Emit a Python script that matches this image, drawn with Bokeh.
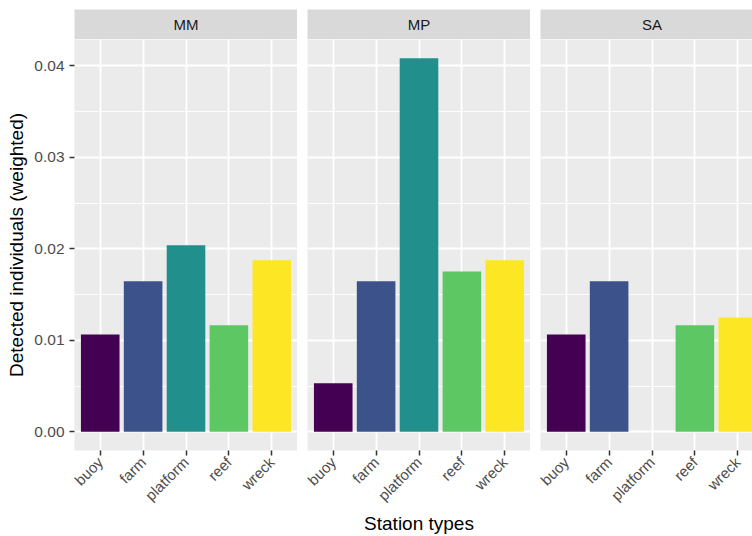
import math
import numpy as np
from bokeh.plotting import figure
from bokeh.models import Range1d, FixedTicker, NumeralTickFormatter
from bokeh.layouts import column, row
from bokeh.embed import file_html
from bokeh.resources import INLINE
from bokeh.core.properties import value

# ---- data ----
categories = ["buoy", "farm", "platform", "reef", "wreck"]
facets = ["MM", "MP", "SA"]
mm_values = [0.01065, 0.01646, 0.02038, 0.01166, 0.01875]
mp_values = [0.00531, 0.01646, 0.04084, 0.01751, 0.01875]
sa_values = [0.01065, 0.01646, float("nan"), 0.01166, 0.01250]
bar_colors = ["#440154", "#3B528B", "#21908C", "#5DC863", "#FDE725"]
y_ticks = [0.0, 0.01, 0.02, 0.03, 0.04]
y_minor = [0.005, 0.015, 0.025, 0.035]
x_title = "Station types"
y_title = "Detected individuals (weighted)"

FONT = "Liberation Sans"
n = len(categories)
xs = np.arange(1, n + 1)

all_vals = np.array(mm_values + mp_values + sa_values, dtype=float)
ymax = np.nanmax(all_vals)
pad = 0.05 * ymax
y_range = Range1d(-pad, ymax + pad)

TOTAL_W, TOTAL_H = 752, 536
FRAME_W = 223
GAP = 10
LEFT = 74
LAST_W = TOTAL_W - LEFT - 2 * (FRAME_W + GAP)  # third panel is cut by the image edge
STRIP_H = 30
TOP = 9
FRAME_H = 411
BOTTOM = TOTAL_H - (TOP + STRIP_H) - FRAME_H


def make_xrange(frame_w):
    span = (n + 0.2) * frame_w / FRAME_W
    return Range1d(0.4, 0.4 + span)


def panel(vals, frame_w, left, xr, first, xlabel):
    p = figure(width=left + frame_w, height=FRAME_H + BOTTOM, x_range=xr, y_range=y_range,
               output_backend="svg", toolbar_location=None, title=None,
               y_axis_location="left" if first else None,
               min_border_left=left, min_border_right=0, min_border_top=0,
               min_border_bottom=BOTTOM)
    p.background_fill_color = "#EBEBEB"
    p.border_fill_color = "white"
    p.outline_line_color = None

    v = np.array(vals, dtype=float)
    mask = ~np.isnan(v)
    p.vbar(x=xs[mask], top=v[mask], bottom=0, width=0.9,
           fill_color=[c for c, m in zip(bar_colors, mask) if m], line_color=None)

    xt = FixedTicker(ticks=[float(x) for x in xs], minor_ticks=[])
    p.xaxis.ticker = xt
    p.xgrid.ticker = xt
    p.xaxis.major_label_overrides = {int(x): c for x, c in zip(xs, categories)}
    p.xaxis.major_label_orientation = math.pi / 4
    p.xaxis.axis_line_color = None
    p.xaxis.major_tick_line_color = "#333333"
    p.xaxis.major_tick_line_width = 1.5
    p.xaxis.major_tick_out = 5
    p.xaxis.major_tick_in = 0
    p.xaxis.minor_tick_line_color = None
    p.xaxis.major_label_text_font = FONT
    p.xaxis.major_label_text_font_size = "15px"
    p.xaxis.major_label_text_color = "#4D4D4D"
    p.xaxis.major_label_standoff = 4
    if xlabel:
        p.xaxis.axis_label = xlabel
        p.xaxis.axis_label_text_font = FONT
        p.xaxis.axis_label_text_font_size = "19px"
        p.xaxis.axis_label_text_font_style = "normal"
        p.xaxis.axis_label_text_color = "black"
        p.xaxis.axis_label_standoff = 0

    yt = FixedTicker(ticks=y_ticks, minor_ticks=y_minor)
    p.ygrid.ticker = yt
    p.xgrid.grid_line_color = "white"
    p.xgrid.grid_line_width = 1.8
    p.ygrid.grid_line_color = "white"
    p.ygrid.grid_line_width = 1.8
    p.ygrid.minor_grid_line_color = "white"
    p.ygrid.minor_grid_line_width = 0.9

    if first:
        p.yaxis.ticker = yt
        p.yaxis.formatter = NumeralTickFormatter(format="0.00")
        p.yaxis.axis_line_color = None
        p.yaxis.major_tick_line_color = "#333333"
        p.yaxis.major_tick_line_width = 1.5
        p.yaxis.major_tick_out = 5
        p.yaxis.major_tick_in = 0
        p.yaxis.minor_tick_line_color = None
        p.yaxis.major_label_text_font = FONT
        p.yaxis.major_label_text_font_size = "15.5px"
        p.yaxis.major_label_text_color = "#4D4D4D"
        p.yaxis.major_label_standoff = 5
        p.yaxis.axis_label = y_title
        p.yaxis.axis_label_text_font = FONT
        p.yaxis.axis_label_text_font_size = "19px"
        p.yaxis.axis_label_text_font_style = "normal"
        p.yaxis.axis_label_text_color = "black"
        p.yaxis.axis_label_standoff = 4
    return p


def strip(label, frame_w, left, xr):
    s = figure(width=left + frame_w, height=TOP + STRIP_H, x_range=xr, y_range=Range1d(0, 1),
               output_backend="svg", toolbar_location=None, title=None,
               x_axis_location=None, y_axis_location=None,
               min_border_left=left, min_border_right=0, min_border_top=TOP,
               min_border_bottom=0)
    s.background_fill_color = "#D9D9D9"
    s.border_fill_color = "white"
    s.outline_line_color = None
    s.xgrid.visible = False
    s.ygrid.visible = False
    s.text(x=[(n + 1) / 2], y=[0.5], text=[label], text_align="center",
           text_baseline="middle", text_font=value(FONT), text_font_size="15px",
           text_color="#1A1A1A")
    return s


widths = [FRAME_W, FRAME_W, LAST_W]
lefts = [LEFT, GAP, GAP]
vals_list = [mm_values, mp_values, sa_values]
xlabels = [None, x_title, None]

strips, panels = [], []
for i, f in enumerate(facets):
    xr = make_xrange(widths[i])
    strips.append(strip(f, widths[i], lefts[i], xr))
    panels.append(panel(vals_list[i], widths[i], lefts[i], xr, i == 0, xlabels[i]))

layout = column(row(*strips), row(*panels))
open("out.html", "w").write(file_html(layout, INLINE))
